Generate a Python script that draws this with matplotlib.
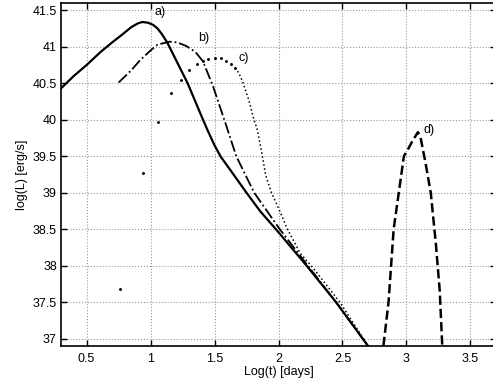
#!/usr/bin/env python3
# -*- coding: utf-8 -*-
import numpy as np
import matplotlib

matplotlib.use("Agg")
import matplotlib.pyplot as plt

# light curves, log(t) [days] vs log(L) [erg/s]
a_logt = [0.30, 0.40, 0.50, 0.61, 0.70, 0.78, 0.85, 0.90, 0.935, 0.98, 1.02,
          1.055, 1.09, 1.13, 1.21, 1.29, 1.35, 1.41, 1.45, 1.50, 1.55, 1.62,
          1.75, 1.86, 1.98, 2.22, 2.45, 2.70]
a_logL = [40.43, 40.60, 40.75, 40.93, 41.06, 41.17, 41.27, 41.32, 41.34, 41.33,
          41.30, 41.25, 41.17, 41.06, 40.78, 40.50, 40.25, 40.00, 39.84, 39.65,
          39.49, 39.32, 39.00, 38.74, 38.50, 38.00, 37.50, 36.90]

b_logt = [0.75, 0.85, 0.92, 1.00, 1.055, 1.15, 1.21, 1.28, 1.35, 1.41, 1.49,
          1.586, 1.67, 1.81, 2.01, 2.23, 2.45, 2.70]
b_logL = [40.51, 40.68, 40.82, 40.95, 41.03, 41.07, 41.06, 41.01, 40.93, 40.80,
          40.45, 39.95, 39.50, 39.00, 38.50, 38.00, 37.50, 36.90]

# sparse samples of c) (single dots)
c_dots_logt = [0.758, 0.94, 1.055, 1.156, 1.235, 1.30, 1.36, 1.41, 1.45, 1.50,
               1.55, 1.59, 1.625, 1.66]
c_dots_logL = [37.68, 39.27, 39.97, 40.36, 40.55, 40.68, 40.76, 40.80, 40.83,
               40.84, 40.84, 40.81, 40.77, 40.71]
# dense part of c)
c_logt = [1.66, 1.69, 1.72, 1.77, 1.80, 1.835, 1.87, 1.90, 1.945, 1.99, 2.07,
          2.17, 2.27, 2.48, 2.70]
c_logL = [40.71, 40.64, 40.52, 40.26, 40.05, 39.86, 39.54, 39.24, 39.00, 38.83,
          38.50, 38.17, 37.97, 37.50, 36.90]

d_logt = [2.82, 2.86, 2.90, 2.94, 2.98, 3.02, 3.05, 3.09, 3.11, 3.15, 3.19,
          3.23, 3.26, 3.28]
d_logL = [36.90, 37.50, 38.50, 39.00, 39.50, 39.62, 39.72, 39.83, 39.76, 39.40,
          39.00, 38.30, 37.66, 36.90]

plt.rcParams["font.family"] = ["Liberation Sans", "DejaVu Sans"]
plt.rcParams["font.size"] = 9

fig = plt.figure(figsize=(4.93, 3.83), dpi=100)
ax = fig.add_axes([61 / 493.0, 1 - 346 / 383.0, 435 / 493.0, 343 / 383.0])

ax.plot(a_logt, a_logL, "-", color="black", lw=1.6)
ax.plot(b_logt, b_logL, "-.", color="black", lw=1.3)
ax.plot(c_dots_logt, c_dots_logL, ".", color="black", ms=2.2)
ax.plot(c_logt, c_logL, ":", color="black", lw=1.1)
ax.plot(d_logt, d_logL, "--", color="black", lw=1.8)

ax.text(1.03, 41.47, "a)", fontsize=9, va="center")
ax.text(1.37, 41.12, "b)", fontsize=9, va="center")
ax.text(1.69, 40.85, "c)", fontsize=9, va="center")
ax.text(3.13, 39.86, "d)", fontsize=9, va="center")

ax.set_xlim(0.3, 3.7)
ax.set_ylim(36.9, 41.6)
ax.set_xticks([0.5, 1, 1.5, 2, 2.5, 3, 3.5])
ax.set_xticklabels(["0.5", "1", "1.5", "2", "2.5", "3", "3.5"])
ax.set_yticks([37, 37.5, 38, 38.5, 39, 39.5, 40, 40.5, 41, 41.5])
ax.set_yticklabels(["37", "37.5", "38", "38.5", "39", "39.5", "40", "40.5",
                    "41", "41.5"])
ax.grid(True, linestyle=":", color="#999999", lw=0.8)
ax.tick_params(direction="in", top=True, right=True, length=4, width=1,
               labelsize=9, pad=3)
ax.tick_params(axis="x", pad=5)
for s in ax.spines.values():
    s.set_linewidth(1.2)

ax.set_xlabel("Log(t) [days]", fontsize=9, labelpad=1)
ax.set_ylabel("log(L) [erg/s]", fontsize=9, labelpad=3)

fig.savefig("out.png", dpi=100)
plt.close()
